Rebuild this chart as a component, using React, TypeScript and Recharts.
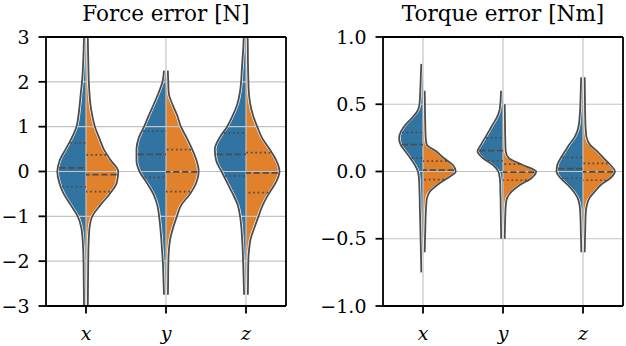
import { ComposedChart, Area, Line, XAxis, YAxis, CartesianGrid, ReferenceLine } from "recharts";

const groups = ["x", "y", "z"];

const BLUE = "#3274a1";
const ORANGE = "#e1812c";
const EDGE = "#4c4c4c";
const GRID = "#c4c4c4";
const FONT = "DejaVu Serif";

// Force error [N]: half-widths of each violin half (x-axis units) at each level
const forceLevels = [-3, -2.75, -2.5, -2, -1.75, -1.5, -1.25, -1, -0.75, -0.5, -0.25, 0, 0.25, 0.5, 0.75, 1, 1.25, 1.5, 1.75, 2, 2.25, 2.5, 2.75, 3];
const forceXBlue = [0.01, 0.011, 0.013, 0.016, 0.02, 0.028, 0.044, 0.088, 0.175, 0.263, 0.319, 0.344, 0.313, 0.238, 0.163, 0.104, 0.079, 0.063, 0.05, 0.035, 0.025, 0.019, 0.014, 0.01];
const forceXOrange = [0.008, 0.009, 0.01, 0.013, 0.015, 0.02, 0.029, 0.063, 0.163, 0.281, 0.369, 0.388, 0.294, 0.206, 0.15, 0.096, 0.063, 0.04, 0.028, 0.02, 0.016, 0.013, 0.01, 0.008];
const forceYBlue = [null, 0.01, 0.015, 0.025, 0.035, 0.044, 0.056, 0.071, 0.094, 0.144, 0.225, 0.316, 0.354, 0.354, 0.325, 0.259, 0.2, 0.138, 0.079, 0.029, 0.01, null, null, null];
const forceYOrange = [null, 0.009, 0.011, 0.015, 0.021, 0.038, 0.075, 0.121, 0.175, 0.285, 0.363, 0.394, 0.366, 0.311, 0.244, 0.171, 0.125, 0.065, 0.019, 0.013, 0.008, null, null, null];
const forceZBlue = [null, 0.009, 0.013, 0.021, 0.026, 0.034, 0.043, 0.059, 0.088, 0.15, 0.221, 0.291, 0.359, 0.375, 0.316, 0.221, 0.15, 0.094, 0.063, 0.046, 0.038, 0.029, 0.019, 0.013];
const forceZOrange = [null, 0.008, 0.01, 0.014, 0.023, 0.043, 0.091, 0.141, 0.194, 0.269, 0.356, 0.404, 0.363, 0.279, 0.185, 0.125, 0.073, 0.038, 0.021, 0.015, 0.011, 0.009, 0.008, 0.006];
// [q1, median, q3] per half
const forceQuartBlue = [[-0.34, 0.08, 0.64], [-0.13, 0.38, 0.9], [-0.1, 0.38, 0.86]];
const forceQuartOrange = [[-0.45, -0.07, 0.37], [-0.45, -0.01, 0.49], [-0.47, -0.03, 0.42]];
const forceTicks = [-3, -2, -1, 0, 1, 2, 3];

// Torque error [Nm]
const torqueLevels = [-0.75, -0.6, -0.5, -0.4, -0.3, -0.25, -0.2, -0.15, -0.1, -0.05, 0, 0.05, 0.1, 0.15, 0.2, 0.25, 0.3, 0.35, 0.4, 0.45, 0.5, 0.6, 0.7, 0.8];
const torqueXBlue = [0.006, 0.011, 0.015, 0.019, 0.023, 0.025, 0.026, 0.029, 0.031, 0.036, 0.048, 0.088, 0.144, 0.206, 0.265, 0.284, 0.258, 0.2, 0.119, 0.054, 0.029, 0.019, 0.013, 0.006];
const torqueXOrange = [null, 0.006, 0.01, 0.015, 0.02, 0.025, 0.034, 0.069, 0.163, 0.288, 0.394, 0.356, 0.244, 0.15, 0.031, 0.019, 0.015, 0.013, 0.011, 0.01, 0.009, 0.006, null, null];
const torqueYBlue = [null, null, 0.008, 0.01, 0.013, 0.014, 0.015, 0.018, 0.019, 0.025, 0.044, 0.113, 0.238, 0.304, 0.26, 0.21, 0.16, 0.113, 0.063, 0.031, 0.019, 0.01, null, null];
const torqueYOrange = [null, null, 0.006, 0.01, 0.015, 0.02, 0.034, 0.091, 0.196, 0.338, 0.4, 0.225, 0.058, 0.019, 0.015, 0.013, 0.011, 0.01, 0.009, 0.008, 0.006, null, null, null];
const torqueZBlue = [null, 0.006, 0.01, 0.014, 0.02, 0.028, 0.05, 0.1, 0.175, 0.263, 0.316, 0.306, 0.263, 0.21, 0.156, 0.095, 0.056, 0.036, 0.028, 0.021, 0.018, 0.013, 0.008, null];
const torqueZOrange = [null, 0.006, 0.01, 0.014, 0.02, 0.033, 0.063, 0.131, 0.206, 0.325, 0.384, 0.325, 0.244, 0.163, 0.07, 0.031, 0.02, 0.015, 0.013, 0.011, 0.01, 0.008, 0.006, null];
const torqueQuartBlue = [[0.1, 0.2, 0.29], [0.08, 0.155, 0.25], [-0.05, 0.022, 0.105]];
const torqueQuartOrange = [[-0.06, 0.01, 0.077], [-0.065, -0.005, 0.055], [-0.065, -0.003, 0.06]];
const torqueTicks = [-1, -0.5, 0, 0.5, 1];

type W = (number | null)[];

const buildRows = (levels: number[], blue: W[], orange: W[]) =>
  levels.map((y, i) => {
    const row: Record<string, number | null> = { y };
    blue.forEach((arr, g) => (row[`g${g}L`] = arr[i]));
    orange.forEach((arr, g) => (row[`g${g}R`] = arr[i]));
    return row;
  });

// half-width at a given level (linear between read levels)
const widthAt = (levels: number[], widths: W, q: number) => {
  for (let i = 0; i < levels.length - 1; i++) {
    if (q >= levels[i] && q <= levels[i + 1]) {
      const a = widths[i] ?? 0;
      const b = widths[i + 1] ?? 0;
      const t = (q - levels[i]) / (levels[i + 1] - levels[i]);
      return a + (b - a) * t;
    }
  }
  return 0;
};

const minus = (s: string) => s.replace("-", "\u2212");

const PLOT_W = 240;
const PAD = 1.2 / 80;

const XTick = ({ x, y, payload }: any) => (
  <text x={x} y={y} dy="0.71em" textAnchor="middle" fontFamily={FONT} fontSize={19} fontStyle="italic" fill="#000">
    {groups[payload.value]}
  </text>
);

const makeYTick = (fmt: (v: number) => string) => ({ x, y, payload }: any) => (
  <text x={x} y={y} dy="0.355em" textAnchor="end" fontFamily={FONT} fontSize={19} fill="#000">
    {fmt(payload.value)}
  </text>
);

interface PanelProps {
  title: string;
  left: number;
  yAxisWidth: number;
  levels: number[];
  blue: W[];
  orange: W[];
  quartBlue: number[][];
  quartOrange: number[][];
  ticks: number[];
  fmt: (v: number) => string;
}

const ViolinPanel = ({ title, left, yAxisWidth, levels, blue, orange, quartBlue, quartOrange, ticks, fmt }: PanelProps) => {
  const rows = buildRows(levels, blue, orange);
  const chartW = yAxisWidth + PLOT_W + 4;
  const yMin = ticks[0];
  const yMax = ticks[ticks.length - 1];
  const halves = [0, 1, 2].flatMap((g) => [
    { g, side: "L", key: `g${g}L`, color: BLUE, widths: blue[g], quart: quartBlue[g] },
    { g, side: "R", key: `g${g}R`, color: ORANGE, widths: orange[g], quart: quartOrange[g] },
  ]);
  const sign = (side: string) => (side === "L" ? -1 : 1);

  return (
    <div style={{ position: "absolute", left, top: 0, width: chartW, height: 346 }}>
      <ComposedChart layout="vertical" width={chartW} height={346} data={rows} margin={{ top: 37, right: 4, bottom: 0, left: 0 }}>
        {halves.map((h) => (
          <Area
            key={`a${h.key}`}
            type="monotone"
            dataKey={(d: any) => (d[h.key] == null ? null : h.side === "L" ? [h.g - d[h.key], h.g] : [h.g, h.g + d[h.key]])}
            fill={h.color}
            fillOpacity={1}
            stroke="none"
            isAnimationActive={false}
            activeDot={false}
          />
        ))}
        <CartesianGrid stroke={GRID} strokeWidth={1.2} zIndex={150} />
        {halves.map((h) => (
          <Line
            key={`w${h.key}`}
            type="monotone"
            dataKey={(d: any) => (d[h.key] == null ? null : h.g + sign(h.side) * d[h.key])}
            stroke="#ffffff"
            strokeWidth={0.8}
            dot={false}
            activeDot={false}
            isAnimationActive={false}
          />
        ))}
        {halves.map((h) => (
          <Line
            key={`o${h.key}`}
            type="monotone"
            dataKey={(d: any) => (d[h.key] == null ? null : h.g + sign(h.side) * (d[h.key] + PAD))}
            stroke={EDGE}
            strokeWidth={1.8}
            dot={false}
            activeDot={false}
            isAnimationActive={false}
          />
        ))}
        {halves.flatMap((h) =>
          h.quart.map((q, qi) => {
            const w = widthAt(levels, h.widths, q);
            return (
              <ReferenceLine
                key={`q${h.key}${qi}`}
                segment={[{ x: h.g + sign(h.side) * w, y: q }, { x: h.g, y: q }]}
                stroke={EDGE}
                strokeWidth={1.7}
                strokeDasharray={qi === 1 ? "6.3 2.7" : "1.7 2.8"}
                zIndex={500}
              />
            );
          })
        )}
        <ReferenceLine y={yMax} stroke="#000" strokeWidth={1.8} zIndex={600} />
        <ReferenceLine x={2.5} stroke="#000" strokeWidth={1.8} zIndex={600} />
        <XAxis
          type="number"
          domain={[-0.5, 2.5]}
          ticks={[0, 1, 2]}
          height={40}
          axisLine={{ stroke: "#000", strokeWidth: 1.8 }}
          tickLine={{ stroke: "#000", strokeWidth: 1.8 }}
          tickSize={7.5}
          tickMargin={13}
          tick={<XTick />}
          allowDataOverflow
        />
        <YAxis
          type="number"
          dataKey="y"
          reversed
          domain={[yMin, yMax]}
          ticks={ticks}
          width={yAxisWidth}
          axisLine={{ stroke: "#000", strokeWidth: 1.8 }}
          tickLine={{ stroke: "#000", strokeWidth: 1.8 }}
          tickSize={7.5}
          tickMargin={9}
          tick={makeYTick(fmt)}
          allowDataOverflow
        />
      </ComposedChart>
      <div
        style={{
          position: "absolute",
          left: yAxisWidth,
          top: 3,
          width: PLOT_W,
          textAlign: "center",
          fontFamily: FONT,
          fontSize: 21.5,
          lineHeight: "21px",
          whiteSpace: "nowrap",
          color: "#000",
        }}
      >
        {title}
      </div>
    </div>
  );
};

export default function App() {
  return (
    <div style={{ position: "absolute", left: 0, top: 0, width: 626, height: 346, background: "#fff" }}>
      <ViolinPanel
        title="Force error [N]"
        left={0}
        yAxisWidth={46}
        levels={forceLevels}
        blue={[forceXBlue, forceYBlue, forceZBlue]}
        orange={[forceXOrange, forceYOrange, forceZOrange]}
        quartBlue={forceQuartBlue}
        quartOrange={forceQuartOrange}
        ticks={forceTicks}
        fmt={(v) => minus(String(v))}
      />
      <ViolinPanel
        title="Torque error [Nm]"
        left={310}
        yAxisWidth={73}
        levels={torqueLevels}
        blue={[torqueXBlue, torqueYBlue, torqueZBlue]}
        orange={[torqueXOrange, torqueYOrange, torqueZOrange]}
        quartBlue={torqueQuartBlue}
        quartOrange={torqueQuartOrange}
        ticks={torqueTicks}
        fmt={(v) => minus(v.toFixed(1))}
      />
    </div>
  );
}
